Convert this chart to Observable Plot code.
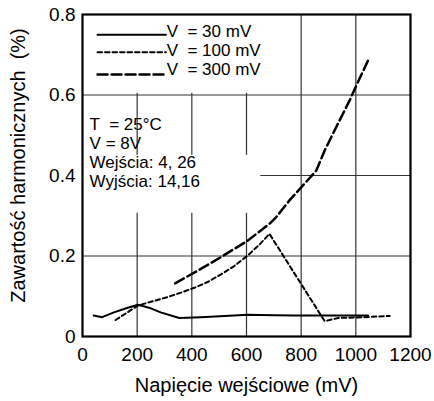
<!DOCTYPE html>
<html>
<head>
<meta charset="utf-8">
<script src="https://cdn.jsdelivr.net/npm/d3@7"></script>
<script src="https://cdn.jsdelivr.net/npm/@observablehq/plot@0.6"></script>
<style>
  html, body { margin: 0; padding: 0; background: #fff; }
  #chart svg { overflow: visible; }
</style>
</head>
<body>
<div id="chart"></div>
<script>
// ---- data ----
const xTicks = [0, 200, 400, 600, 800, 1000, 1200];
const yTicks = [0, 0.2, 0.4, 0.6, 0.8];
const xGrid = [200, 400, 600, 800, 1000];
const yGrid = [0.2, 0.4, 0.6];

const seriesNames = ["V  = 30 mV", "V  = 100 mV", "V  = 300 mV"];

const v30x = [41, 72, 115, 160, 203, 250, 286, 354, 433, 520, 604, 700, 776, 900, 1045];
const v30y = [0.052, 0.048, 0.060, 0.070, 0.079, 0.070, 0.060, 0.046, 0.048, 0.051, 0.054, 0.053, 0.052, 0.052, 0.052];

const v100x = [121, 160, 203, 260, 311, 360, 409, 460, 506, 555, 604, 650, 684, 886, 935, 1030, 1124];
const v100y = [0.041, 0.058, 0.077, 0.088, 0.098, 0.109, 0.121, 0.136, 0.154, 0.175, 0.201, 0.230, 0.255, 0.038, 0.046, 0.048, 0.051];

const v300x = [339, 420, 506, 604, 684, 708, 757, 806, 855, 886, 928, 977, 1002, 1045];
const v300y = [0.132, 0.163, 0.197, 0.238, 0.280, 0.296, 0.338, 0.375, 0.412, 0.462, 0.520, 0.586, 0.624, 0.686];

const annotationLines = ["T  = 25°C", "V = 8V", "Wejścia: 4, 26", "Wyjścia: 14,16"];
const xTitle = "Napięcie wejściowe (mV)";
const yTitle = "Zawartość harmonicznych  (%)";

// ---- layout helpers (positions in data space) ----
const legendSampleX = [55, 305];
const legendSampleY = [0.750, 0.706, 0.651];
const legendTextX = 308;
const legendTextY = [0.757, 0.710, 0.663];
const annotX = 26;
const annotY = [0.526, 0.479, 0.432, 0.385];
// white areas that hide the grid behind the legend and the note
const masks = [
  {x1: 0, x2: 160, y1: 0.616, y2: 0.768},
  {x1: 160, x2: 790, y1: 0.604, y2: 0.8},
  {x1: 0, x2: 160, y1: 0.306, y2: 0.574},
  {x1: 160, x2: 652, y1: 0.306, y2: 0.45}
];

const styles = [
  {dash: null, width: 2},
  {dash: "4.5,3", width: 2},
  {dash: "10,4", width: 2.5}
];

const series = [
  v30x.map((x, i) => ({x, y: v30y[i]})),
  v100x.map((x, i) => ({x, y: v100y[i]})),
  v300x.map((x, i) => ({x, y: v300y[i]}))
];

const lineMarks = series.map((data, k) =>
  Plot.line(data, {x: "x", y: "y", stroke: "black", strokeWidth: styles[k].width,
    strokeDasharray: styles[k].dash, strokeLinejoin: "round"}));

const legendLines = seriesNames.map((name, k) =>
  Plot.line(legendSampleX.map(x => ({x, y: legendSampleY[k]})),
    {x: "x", y: "y", stroke: "black", strokeWidth: styles[k].width, strokeDasharray: styles[k].dash}));

const legendText = Plot.text(seriesNames.map((t, k) => ({t, y: legendTextY[k]})),
  {x: () => legendTextX, y: "y", text: "t", textAnchor: "start", fontSize: 17, fill: "black"});

const annot = Plot.text(annotationLines.map((t, k) => ({t, y: annotY[k]})),
  {x: () => annotX, y: "y", text: "t", textAnchor: "start", fontSize: 17, fill: "black"});

const chart = Plot.plot({
  width: 434,
  height: 401,
  marginLeft: 82,
  marginRight: 24,
  marginTop: 14,
  marginBottom: 65,
  style: {fontFamily: "'Liberation Sans', Arial, Helvetica, sans-serif", fontSize: "19px", background: "white", color: "black"},
  x: {domain: [0, 1200]},
  y: {domain: [0, 0.8]},
  marks: [
    Plot.ruleX(xGrid, {stroke: "#333", strokeWidth: 1.2}),
    Plot.ruleY(yGrid, {stroke: "#333", strokeWidth: 1.2}),
    Plot.rect(masks, {x1: "x1", x2: "x2", y1: "y1", y2: "y2", fill: "white"}),
    Plot.axisX(xTicks, {tickSize: 0, tickPadding: 11, fontSize: 19, label: null, tickFormat: d => String(d)}),
    Plot.axisY(yTicks, {tickSize: 0, tickPadding: 7, fontSize: 19, label: null,
      tickFormat: d => d === 0 ? "0" : d.toFixed(1)}),
    Plot.text([xTitle], {frameAnchor: "bottom", dy: 49, lineAnchor: "middle", fontSize: 20, text: d => d}),
    Plot.text([yTitle], {frameAnchor: "left", dx: -64, dy: -10, rotate: -90, lineAnchor: "middle", textAnchor: "middle", fontSize: 20, text: d => d}),
    ...lineMarks,
    ...legendLines,
    legendText,
    annot,
    Plot.frame({stroke: "black", strokeWidth: 2.2})
  ]
});

document.getElementById("chart").appendChild(chart);
</script>
</body>
</html>
